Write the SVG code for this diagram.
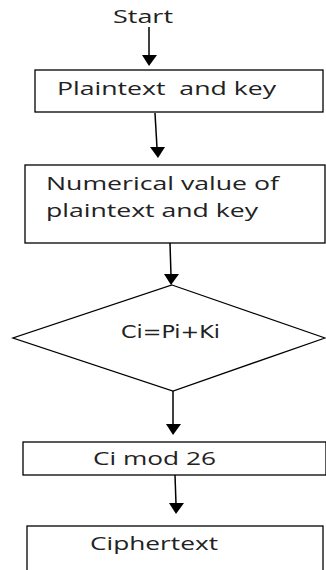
<svg xmlns="http://www.w3.org/2000/svg" width="326" height="570" viewBox="0 0 326 570">
<defs>
<style>
.box{fill:#fff;stroke:#000;stroke-width:1.3}
.t{font-family:"Open Sans","Liberation Sans",sans-serif;font-size:18px;fill:#222}
.d{font-family:"DejaVu Sans",sans-serif;font-size:17px;fill:#222}
.c{stroke:#000;stroke-width:1.5;fill:none}
</style>
</defs>
<rect width="326" height="570" fill="#fff"/>
<g id="connectors">
<line class="c" x1="149" y1="27" x2="149" y2="56"/>
<path d="M142,55 L157,55 L149,66 z"/>
<line class="c" x1="155" y1="113" x2="157" y2="148"/>
<path d="M150,147 L165,147 L158,158 z"/>
<line class="c" x1="170" y1="243" x2="171" y2="275"/>
<path d="M164,274 L179,274 L171,285 z"/>
<line class="c" x1="173" y1="391" x2="173" y2="425"/>
<path d="M166,424 L181,424 L173,435 z"/>
<line class="c" x1="175" y1="475" x2="176" y2="504"/>
<path d="M169,503 L184,503 L176,514 z"/>
</g>
<g id="start"><text class="t" x="113" y="23" textLength="60" lengthAdjust="spacingAndGlyphs">Start</text></g>
<g id="plaintext">
<rect class="box" x="35" y="70" width="288" height="42"/>
<text class="t" x="57" y="95" textLength="219" lengthAdjust="spacingAndGlyphs" xml:space="preserve">Plaintext  and key</text>
</g>
<g id="numerical">
<rect class="box" x="25" y="165" width="300" height="78"/>
<text class="t" x="46" y="190" textLength="233" lengthAdjust="spacingAndGlyphs">Numerical value of</text>
<text class="t" x="46" y="217" textLength="212" lengthAdjust="spacingAndGlyphs">plaintext and key</text>
</g>
<g id="sum">
<polygon class="box" points="172,285 325,338 173,391 13,338"/>
<text class="d" x="121" y="338" textLength="99" lengthAdjust="spacingAndGlyphs">Ci=Pi+Ki</text>
</g>
<g id="mod">
<rect class="box" x="23" y="442" width="303" height="33"/>
<text class="t" x="93" y="465" textLength="123" lengthAdjust="spacingAndGlyphs">Ci mod 26</text>
</g>
<g id="cipher">
<rect class="box" x="27" y="526" width="296" height="60"/>
<text class="t" x="90" y="550" textLength="128" lengthAdjust="spacingAndGlyphs">Ciphertext</text>
</g>
</svg>
